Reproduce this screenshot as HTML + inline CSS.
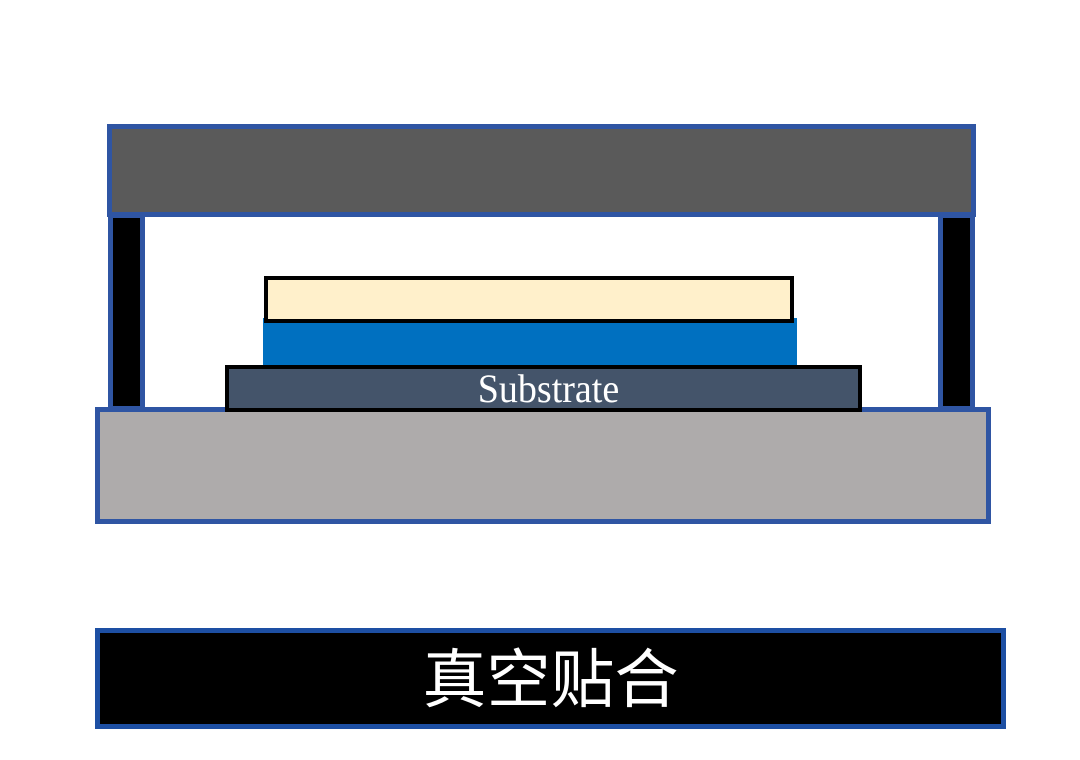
<!DOCTYPE html>
<html><head><style>
html,body{margin:0;padding:0;background:#fff;width:1080px;height:760px;overflow:hidden;position:relative}
div{position:absolute;box-sizing:border-box}
</style></head><body>
<div style="left:107px;top:124px;width:869px;height:93px;background:#5a5a5a;border:5px solid #2f55a3"></div>
<div style="left:108px;top:213px;width:37px;height:198px;background:#000;border:5px solid #2f55a3"></div>
<div style="left:938px;top:213px;width:37px;height:198px;background:#000;border:5px solid #2f55a3"></div>
<div style="left:95px;top:407px;width:896px;height:117px;background:#aeabab;border:5px solid #2f55a3"></div>
<div style="left:263px;top:318px;width:534px;height:49px;background:#0070c0"></div>
<div style="left:264px;top:276px;width:530px;height:47px;background:#fff0cb;border:4px solid #000"></div>
<div style="left:225px;top:365px;width:637px;height:47px;background:#44546a;border:4px solid #000"></div>
<div style="left:235px;top:367px;width:627px;height:44px;color:#fff;font-family:'Liberation Serif',serif;font-size:40px;line-height:44px;text-align:center;transform:scaleX(0.95)">Substrate</div>
<div style="left:95px;top:628px;width:911px;height:101px;background:#000;border:5px solid #1d4fa3;color:#fff;font-family:'Liberation Sans','Noto Sans CJK SC',sans-serif;font-size:64px;line-height:95px;text-align:center">真空贴合</div>
</body></html>
